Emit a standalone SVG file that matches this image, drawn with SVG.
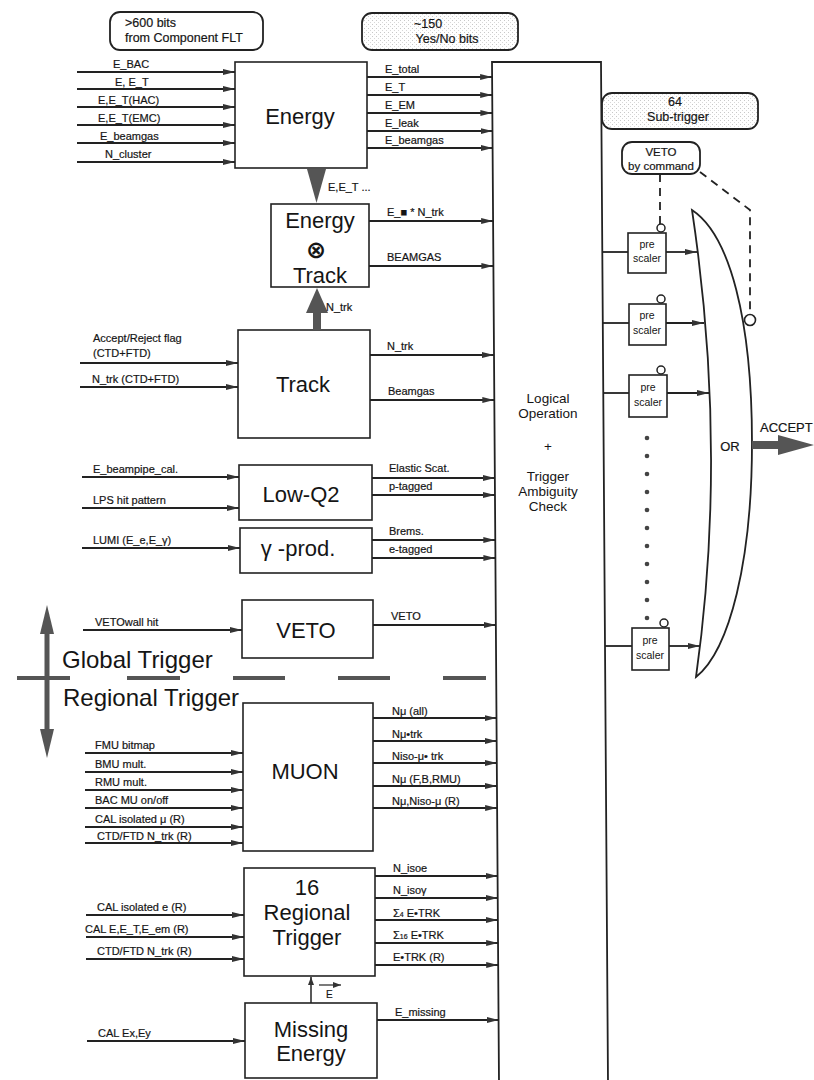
<svg xmlns="http://www.w3.org/2000/svg" width="814" height="1080" viewBox="0 0 814 1080">
<style>
text{font-family:"Liberation Sans",Arial,sans-serif;fill:#151515}
.l{font-size:11px;stroke:#151515;stroke-width:0.2}
.h{font-size:12.5px;stroke:#151515;stroke-width:0.2}
.big{font-size:22px;text-anchor:middle}
.mid{font-size:13.5px;text-anchor:middle}
.ps{font-size:10.5px;text-anchor:middle}
.box{fill:#fff;stroke:#222;stroke-width:1.6}
.rb{fill:#fff;stroke:#222;stroke-width:1.8}
.st{fill:url(#stip);stroke:#222;stroke-width:1.8}
.c line{stroke:#222;stroke-width:1.8;marker-end:url(#ah)}
.c .n{marker-end:none}
.dash{stroke:#222;stroke-width:1.8;stroke-dasharray:8 6;fill:none}
.thick{fill:#555}
</style>
<defs>
<marker id="ah" markerWidth="12" markerHeight="6" refX="12" refY="3" orient="auto" markerUnits="userSpaceOnUse"><path d="M0,0 L12,3 L0,6 z" fill="#333"/></marker>
<marker id="ahs" markerWidth="8" markerHeight="6" refX="8" refY="3" orient="auto" markerUnits="userSpaceOnUse"><path d="M0,0 L8,3 L0,6 z" fill="#333"/></marker>
<pattern id="stip" width="4" height="4" patternUnits="userSpaceOnUse"><rect width="4" height="4" fill="#fff"/><rect x="0" y="0" width="1" height="1" fill="#c8c8c8"/><rect x="2" y="2" width="1" height="1" fill="#d8d8d8"/></pattern>
</defs>

<!-- header boxes -->
<g id="hdr-component">
<rect class="rb" x="110" y="12" width="153" height="38" rx="10"/>
<text x="125" y="27" class="h">&gt;600 bits</text>
<text x="125" y="42" class="h">from Component FLT</text>
</g>
<g id="hdr-yesno">
<rect class="st" x="362" y="13" width="156" height="37" rx="10"/>
<text x="428" y="28" text-anchor="middle" class="h">~150</text>
<text x="447" y="43" text-anchor="middle" class="h">Yes/No bits</text>
</g>
<g id="hdr-subtrigger">
<rect class="st" x="602" y="93" width="156" height="36" rx="10"/>
<text x="675" y="106" text-anchor="middle" class="h">64</text>
<text x="678" y="121" text-anchor="middle" class="h">Sub-trigger</text>
</g>
<g id="veto-command">
<rect class="rb" x="622" y="142" width="78" height="32" rx="10"/>
<text x="661" y="156" text-anchor="middle" class="l" style="font-size:11.5px">VETO</text>
<text x="661" y="170" text-anchor="middle" class="l" style="font-size:11.5px">by command</text>
</g>

<!-- nodes -->
<g id="energy">
<rect class="box" x="235" y="62" width="132" height="106"/>
<text class="big" x="300" y="124">Energy</text>
</g>
<g id="energy-track">
<rect class="box" x="271" y="204" width="98" height="83"/>
<text class="big" x="320" y="228">Energy</text>
<text x="316" y="258" text-anchor="middle" style="font-family:'DejaVu Sans',sans-serif;font-weight:bold;font-size:24px">⊗</text>
<text class="big" x="320" y="283">Track</text>
</g>
<g id="track">
<rect class="box" x="238" y="330" width="132" height="108"/>
<text class="big" x="303" y="392">Track</text>
</g>
<g id="lowq2">
<rect class="box" x="239" y="465" width="133" height="55"/>
<text class="big" x="301" y="502">Low-Q2</text>
</g>
<g id="gammaprod">
<rect class="box" x="240" y="528" width="132" height="45"/>
<text class="big" x="298" y="556">γ -prod.</text>
</g>
<g id="veto">
<rect class="box" x="242" y="600" width="131" height="58"/>
<text class="big" x="306" y="638">VETO</text>
</g>
<g id="muon">
<rect class="box" x="243" y="703" width="130" height="148"/>
<text class="big" x="305" y="779">MUON</text>
</g>
<g id="regional">
<rect class="box" x="244" y="868" width="131" height="108"/>
<text class="big" x="307" y="895">16</text>
<text class="big" x="307" y="920">Regional</text>
<text class="big" x="307" y="945">Trigger</text>
</g>
<g id="missing">
<rect class="box" x="245" y="1003" width="132" height="75"/>
<text class="big" x="311" y="1037">Missing</text>
<text class="big" x="311" y="1061">Energy</text>
</g>
<g id="logical">
<polyline points="499,1084 492,62 601,62 608,1084" fill="#fff" stroke="#222" stroke-width="1.8"/>
<text class="mid" x="548" y="403">Logical</text>
<text class="mid" x="548" y="418">Operation</text>
<text class="mid" x="548" y="451">+</text>
<text class="mid" x="548" y="481">Trigger</text>
<text class="mid" x="548" y="496">Ambiguity</text>
<text class="mid" x="548" y="511">Check</text>
</g>
<g id="or-gate">
<path d="M692,210 C730,235 752,320 752,443 C752,560 730,650 696,677 Q728,450 692,210 z" fill="#fff" stroke="#222" stroke-width="1.8"/>
<text x="730" y="451" text-anchor="middle" class="l" style="font-size:13px">OR</text>
</g>
<g id="prescaler1">
<rect class="box" x="628" y="233" width="38" height="40"/>
<circle cx="661" cy="228" r="4" fill="#fff" stroke="#222" stroke-width="1.5"/>
<text class="ps" x="647" y="248">pre</text><text class="ps" x="647" y="262">scaler</text>
</g>
<g id="prescaler2">
<rect class="box" x="629" y="304" width="37" height="41"/>
<circle cx="661" cy="299" r="4" fill="#fff" stroke="#222" stroke-width="1.5"/>
<text class="ps" x="647" y="319">pre</text><text class="ps" x="647" y="334">scaler</text>
</g>
<g id="prescaler3">
<rect class="box" x="629" y="375" width="38" height="42"/>
<circle cx="661" cy="370" r="4" fill="#fff" stroke="#222" stroke-width="1.5"/>
<text class="ps" x="648" y="391">pre</text><text class="ps" x="648" y="406">scaler</text>
</g>
<g id="prescaler4">
<rect class="box" x="632" y="628" width="37" height="42"/>
<circle cx="664" cy="623" r="4" fill="#fff" stroke="#222" stroke-width="1.5"/>
<text class="ps" x="650" y="644">pre</text><text class="ps" x="650" y="659">scaler</text>
</g>
<g id="dots" fill="#444">
<circle cx="647" cy="438" r="2.3"/><circle cx="647" cy="456" r="2.3"/><circle cx="647" cy="474" r="2.3"/><circle cx="647" cy="492" r="2.3"/><circle cx="647" cy="510" r="2.3"/><circle cx="647" cy="528" r="2.3"/><circle cx="647" cy="546" r="2.3"/><circle cx="647" cy="564" r="2.3"/><circle cx="647" cy="582" r="2.3"/><circle cx="647" cy="600" r="2.3"/><circle cx="647" cy="618" r="2.3"/>
</g>
<g id="trigger-divider">
<rect class="thick" x="44.5" y="628" width="5" height="105"/>
<polygon class="thick" points="40,634 54,634 47,605"/>
<polygon class="thick" points="40,729 54,729 47,758"/>
<g stroke="#555" stroke-width="4">
<line x1="17" y1="678" x2="70" y2="678"/><line x1="127" y1="678" x2="180" y2="678"/><line x1="233" y1="678" x2="285" y2="678"/><line x1="338" y1="678" x2="390" y2="678"/><line x1="443" y1="678" x2="486" y2="678"/>
</g>
<text x="62" y="668" font-size="24px">Global Trigger</text>
<text x="63" y="706" font-size="24px">Regional Trigger</text>
</g>

<!-- connectors -->
<g id="connectors" class="c">
<line x1="77" y1="72" x2="235" y2="72"/><line x1="77" y1="89" x2="235" y2="89"/><line x1="77" y1="107" x2="235" y2="107"/><line x1="77" y1="125" x2="235" y2="125"/><line x1="77" y1="143" x2="235" y2="143"/><line x1="77" y1="162" x2="235" y2="162"/>
<line x1="367" y1="77" x2="492.1" y2="77"/><line x1="367" y1="95" x2="492.2" y2="95"/><line x1="367" y1="113" x2="492.4" y2="113"/><line x1="367" y1="131" x2="492.5" y2="131"/><line x1="367" y1="148" x2="492.6" y2="148"/>
<polygon class="thick" points="307,169 326,169 316.5,203"/>
<rect class="thick" x="313" y="305" width="8" height="25"/>
<polygon class="thick" points="306,313 328,313 317,288"/>
<line x1="369" y1="221" x2="493.1" y2="221"/><line x1="369" y1="266" x2="493.4" y2="266"/>
<line x1="80" y1="363" x2="238" y2="363"/><line x1="80" y1="387" x2="238" y2="387"/>
<line x1="370" y1="355" x2="494" y2="355"/><line x1="370" y1="400" x2="494.3" y2="400"/>
<line x1="82" y1="477" x2="239" y2="477"/><line x1="82" y1="508" x2="239" y2="508"/><line x1="82" y1="548" x2="240" y2="548"/>
<line x1="372" y1="478" x2="494.9" y2="478"/><line x1="372" y1="495" x2="495" y2="495"/><line x1="372" y1="540" x2="495.3" y2="540"/><line x1="372" y1="558" x2="495.4" y2="558"/>
<line x1="83" y1="630" x2="242" y2="630"/><line x1="373" y1="625" x2="495.9" y2="625"/>
<line x1="85" y1="753" x2="243" y2="753"/><line x1="85" y1="772" x2="243" y2="772"/><line x1="85" y1="790" x2="243" y2="790"/><line x1="85" y1="808" x2="243" y2="808"/><line x1="85" y1="827" x2="243" y2="827"/><line x1="85" y1="843" x2="243" y2="843"/>
<line x1="373" y1="718" x2="496.5" y2="718"/><line x1="373" y1="741" x2="496.7" y2="741"/><line x1="373" y1="763" x2="496.8" y2="763"/><line x1="373" y1="786" x2="497" y2="786"/><line x1="373" y1="808" x2="497.1" y2="808"/>
<line x1="86" y1="915" x2="244" y2="915"/><line x1="86" y1="937" x2="244" y2="937"/><line x1="86" y1="959" x2="244" y2="959"/>
<line x1="375" y1="876" x2="497.6" y2="876"/><line x1="375" y1="898" x2="497.8" y2="898"/><line x1="375" y1="920" x2="497.9" y2="920"/><line x1="375" y1="943" x2="498.1" y2="943"/><line x1="375" y1="965" x2="498.2" y2="965"/>
<line x1="87" y1="1041" x2="245" y2="1041"/><line x1="377" y1="1020" x2="498.6" y2="1020"/>
<line x1="311" y1="1003" x2="311" y2="977" style="stroke-width:1.5;marker-end:url(#ahs)"/>
<line x1="319" y1="985" x2="341" y2="985" style="stroke-width:1.2;marker-end:url(#ahs)"/>
<line class="n" x1="602.3" y1="252" x2="628" y2="252"/><line class="n" x1="602.8" y1="323" x2="629" y2="323"/><line class="n" x1="603.3" y1="393" x2="629" y2="393"/><line class="n" x1="605" y1="646" x2="632" y2="646"/>
<line x1="666" y1="252" x2="697" y2="252"/><line x1="666" y1="323" x2="704" y2="323"/><line x1="667" y1="393" x2="709" y2="393"/><line x1="669" y1="646" x2="700" y2="646"/>
<path class="dash" d="M660,174 L660,224"/>
<path class="dash" d="M700,172 L750,210 L750,314"/>
<circle cx="750" cy="320" r="5.5" fill="#fff" stroke="#222" stroke-width="1.6"/>
<polygon class="thick" points="752,441 778,441 778,435 814,445 778,455 778,449 752,449"/>
</g>

<!-- labels -->
<g id="labels" class="l">
<text x="113" y="68">E_BAC</text>
<text x="115" y="86">E, E_T</text>
<text x="98" y="104">E,E_T(HAC)</text>
<text x="98" y="122">E,E_T(EMC)</text>
<text x="100" y="140">E_beamgas</text>
<text x="105" y="158">N_cluster</text>
<text x="385" y="73">E_total</text>
<text x="385" y="91">E_T</text>
<text x="385" y="109">E_EM</text>
<text x="385" y="127">E_leak</text>
<text x="385" y="144">E_beamgas</text>
<text x="328" y="191">E,E_T ...</text>
<text x="387" y="216">E_■ * N_trk</text>
<text x="387" y="261">BEAMGAS</text>
<text x="326" y="311">N_trk</text>
<text x="93" y="342">Accept/Reject flag</text>
<text x="93" y="357">(CTD+FTD)</text>
<text x="92" y="383">N_trk (CTD+FTD)</text>
<text x="387" y="350">N_trk</text>
<text x="388" y="395">Beamgas</text>
<text x="93" y="473">E_beampipe_cal.</text>
<text x="93" y="504">LPS hit pattern</text>
<text x="93" y="544">LUMI (E_e,E_γ)</text>
<text x="389" y="472">Elastic Scat.</text>
<text x="389" y="490">p-tagged</text>
<text x="389" y="535">Brems.</text>
<text x="389" y="553">e-tagged</text>
<text x="95" y="626">VETOwall hit</text>
<text x="391" y="620">VETO</text>
<text x="95" y="749">FMU bitmap</text>
<text x="95" y="768">BMU mult.</text>
<text x="95" y="786">RMU  mult.</text>
<text x="95" y="804">BAC MU on/off</text>
<text x="95" y="823">CAL isolated μ (R)</text>
<text x="97" y="840">CTD/FTD N_trk (R)</text>
<text x="392" y="715">Nμ (all)</text>
<text x="392" y="738">Nμ•trk</text>
<text x="392" y="760">Niso-μ• trk</text>
<text x="392" y="783">Nμ (F,B,RMU)</text>
<text x="392" y="805">Nμ,Niso-μ (R)</text>
<text x="97" y="911">CAL isolated e (R)</text>
<text x="85" y="933">CAL E,E_T,E_em (R)</text>
<text x="97" y="955">CTD/FTD N_trk (R)</text>
<text x="393" y="872">N_isoe</text>
<text x="393" y="894">N_isoγ</text>
<text x="393" y="917">Σ<tspan font-size="7px">4</tspan> E•TRK</text>
<text x="393" y="939">Σ<tspan font-size="7px">16</tspan> E•TRK</text>
<text x="393" y="961">E•TRK (R)</text>
<text x="326" y="998" style="font-size:10px">E</text>
<text x="98" y="1037">CAL Ex,Ey</text>
<text x="395" y="1016">E_missing</text>
<text x="760" y="432" style="font-size:13px">ACCEPT</text>
</g>
</svg>
